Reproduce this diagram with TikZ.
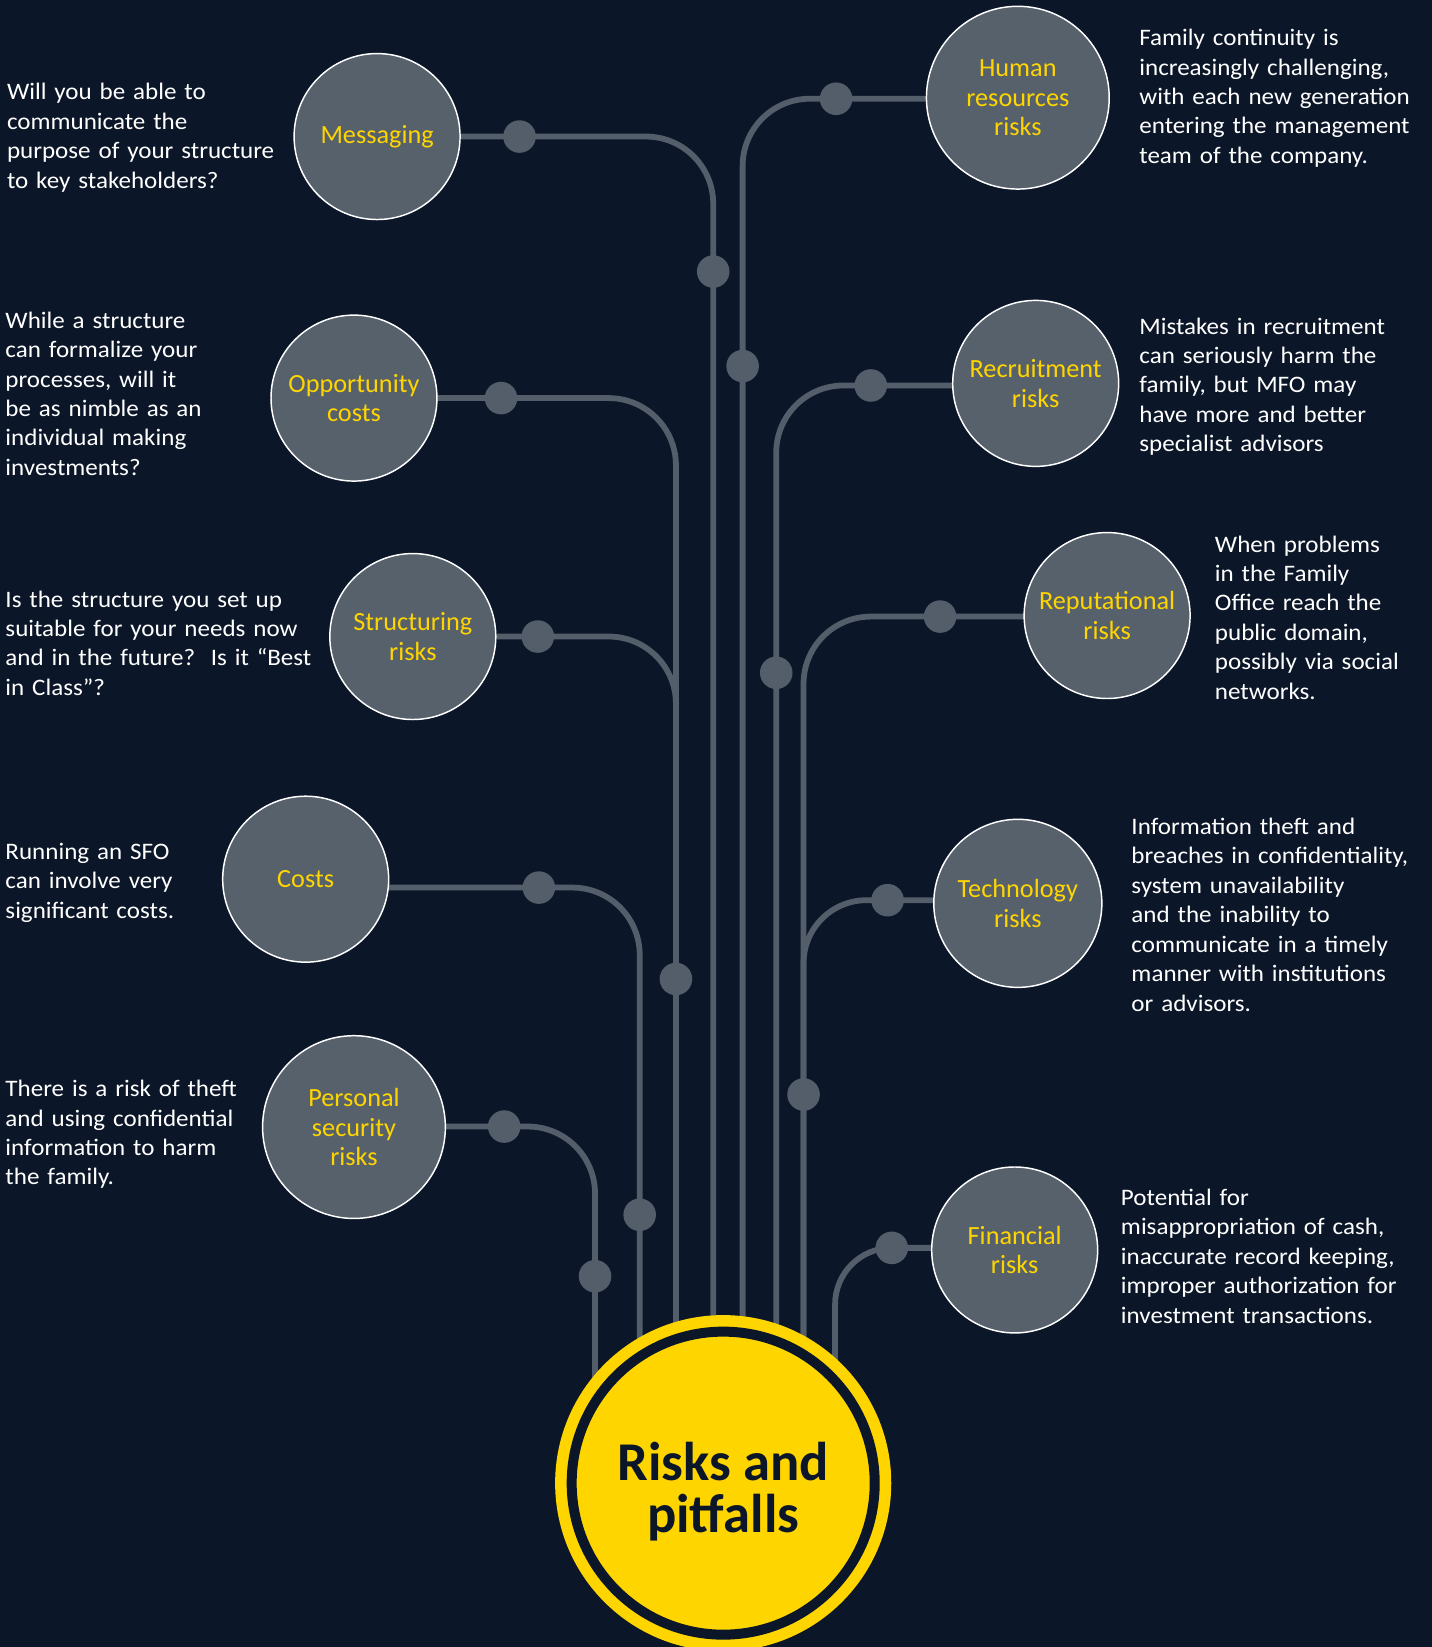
\documentclass[tikz,border=0pt]{standalone}
\usepackage{fontspec}
\setmainfont{Carlito}
\newfontfamily\bodyfont{Carlito}[FakeStretch=1.06]
\usetikzlibrary{calc}
\definecolor{bg}{HTML}{0B1628}
\definecolor{ballgray}{HTML}{56616C}
\definecolor{linegray}{HTML}{535E6A}
\definecolor{eyyellow}{HTML}{FFD500}
\pgfdeclarelayer{back}
\pgfdeclarelayer{lines}
\pgfsetlayers{back,lines,main}
\begin{document}
\begin{tikzpicture}[x=1pt,y=-1pt,
  conn/.style={draw=linegray,line width=5.5pt,rounded corners=64pt},
  dot/.style={circle,fill=linegray,minimum size=31pt,inner sep=0pt},
  ball/.style={circle,fill=ballgray,draw=white,line width=1.4pt,minimum size=#1,inner sep=0pt,
    text=eyyellow,align=center,font=\fontsize{25}{28}\selectfont},
  ball/.default=158pt,
  desc/.style={text=white,align=left,anchor=base west,inner sep=0pt,text width=330pt,
    font=\bodyfont\fontsize{22.5}{28}\selectfont},
  hubring/.style={circle,inner sep=0pt}
]
\useasboundingbox (0,0) rectangle (1363,1568);
\begin{pgfonlayer}{back}
\fill[bg] (0,0) rectangle (1363,1568);
\end{pgfonlayer}

% ---------- topic circles ----------
\node[ball] (m) at (359,130) {Messaging};
\node[ball] (o) at (337,379) {Opportunity\\costs};
\node[ball] (s) at (393,606) {Structuring\\risks};
\node[ball] (c) at (291,837) {Costs};
\node[ball=174pt] (p) at (337,1073) {Personal\\security\\risks};
\node[ball=174pt] (h) at (969,93) {Human\\resources\\risks};
\node[ball] (r) at (986,365) {Recruitment\\risks};
\node[ball] (rp) at (1054,586) {Reputational\\risks};
\node[ball=160pt] (t) at (969,860) {Technology\\risks};
\node[ball] (f) at (966,1190) {Financial\\risks};

% ---------- dots on horizontal segments ----------
\node[dot] (md) at (494.6,130) {};
\node[dot] (od) at (477,379) {};
\node[dot] (sd) at (512,606) {};
\node[dot] (cd) at (513,845) {};
\node[dot] (pd) at (480,1072.5) {};
\node[dot] (hd) at (796,94) {};
\node[dot] (rd) at (829,367) {};
\node[dot] (rpd) at (895,587) {};
\node[dot] (td) at (845,857) {};
\node[dot] (fd) at (849,1188) {};

% ---------- dots on vertical segments ----------
\node[dot] (mv) at (679,258.5) {};
\node[dot] (ov) at (643.5,932) {};
\node[dot] (cv) at (609,1156.5) {};
\node[dot] (pv) at (566.5,1215) {};
\node[dot] (hv) at (707,348.5) {};
\node[dot] (rv) at (739,640.5) {};
\node[dot] (tv) at (765,1042) {};

% ---------- corner and end coordinates ----------
\coordinate (mk) at (679,130);      \coordinate (me) at (679,1400);
\coordinate (ok) at (643.5,379);    \coordinate (oe) at (643.5,1400);
\coordinate (sk) at (643.5,606);
\coordinate (ck) at (609,845);      \coordinate (ce) at (609,1400);
\coordinate (pk) at (566.5,1072.5); \coordinate (pe) at (566.5,1400);
\coordinate (hk) at (707,94);       \coordinate (he) at (707,1400);
\coordinate (rk) at (739,367);      \coordinate (re) at (739,1400);
\coordinate (rpk) at (765,587);     \coordinate (rpe) at (765,1400);
\coordinate (tk) at (765,857);
\coordinate (fk) at (795,1188);     \coordinate (fe) at (795,1400);

% ---------- connectors (behind circles) ----------
\begin{pgfonlayer}{lines}
\draw[conn] (m.center |- md) -- (mk) -- (me);
\draw[conn] (o.center |- od) -- (ok) -- (oe);
\draw[conn] (s.center |- sd) -- (sk) -- (oe);
\draw[conn] (c.center |- cd) -- (ck) -- (ce);
\draw[conn] (p.center |- pd) -- (pk) -- (pe);
\draw[conn] (h.center |- hd) -- (hk) -- (he);
\draw[conn] (r.center |- rd) -- (rk) -- (re);
\draw[conn] (rp.center |- rpd) -- (rpk) -- (rpe);
\draw[conn,rounded corners=60pt] (t.center |- td) -- (tk) -- (rpe);
\draw[conn,rounded corners=54pt] (f.center |- fd) -- (fk) -- (fe);
\end{pgfonlayer}

% ---------- hub ----------
\begin{scope}
\clip (0,0) rectangle (1363,1568);
\node[hubring,fill=eyyellow,minimum size=320pt] (hubout) at (688.5,1412) {};
\node[hubring,fill=eyyellow,draw=bg,line width=9.5pt,minimum size=288.5pt] (hub) at (688.5,1412) {};
\end{scope}
\node[text=bg,align=center,font=\bfseries\fontsize{52}{49}\selectfont] (title) at (688.5,1420) {Risks and\\pitfalls};

% ---------- descriptions ----------
\node[desc] (mt) at (6.5,95) {Will you be able to\\communicate the\\purpose of your structure\\to key stakeholders?};
\node[desc] (ot) at (5,312.6) {While a structure\\can formalize your\\processes, will it\\be as nimble as an\\individual making\\investments?};
\node[desc] (st) at (5,578) {Is the structure you set up\\suitable for your needs now\\and in the future?\ \ Is it “Best\\in Class”?};
\node[desc] (ct) at (5,818) {Running an SFO\\can involve very\\significant costs.};
\node[desc] (pt) at (5,1044) {There is a risk of theft\\and using confidential\\information to harm\\the family.};
\node[desc] (ht) at (1084.5,43.5) {Family continuity is\\increasingly challenging,\\with each new generation\\entering the management\\team of the company.};
\node[desc] (rt) at (1084.5,318) {Mistakes in recruitment\\can seriously harm the\\family, but MFO may\\have more and better\\specialist advisors};
\node[desc] (rpt) at (1156.5,525.6) {When problems\\in the Family\\Office reach the\\public domain,\\possibly via social\\networks.};
\node[desc] (tt) at (1077,794.5) {Information theft and\\breaches in confidentiality,\\system unavailability\\and the inability to\\communicate in a timely\\manner with institutions\\or advisors.};
\node[desc] (ft) at (1067,1147.7) {Potential for\\misappropriation of cash,\\inaccurate record keeping,\\improper authorization for\\investment transactions.};
\end{tikzpicture}
\end{document}
